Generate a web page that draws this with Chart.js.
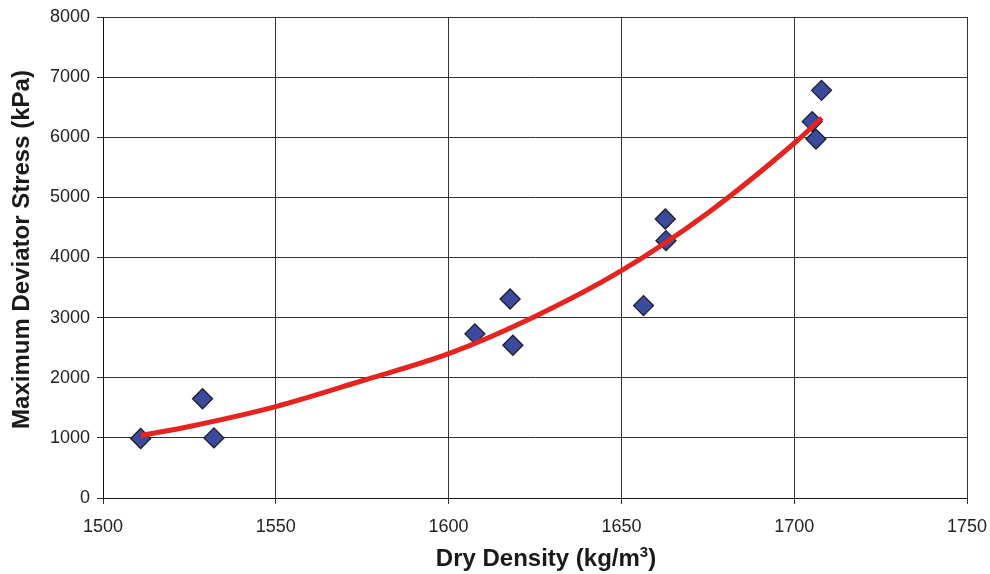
<!DOCTYPE html>
<html>
<head>
<meta charset="utf-8">
<script src="https://cdn.jsdelivr.net/npm/chart.js@4.4.0/dist/chart.umd.min.js"></script>
<style>
  html, body { margin: 0; padding: 0; background: #fff; }
  #wrap { width: 990px; height: 574px; position: relative; }
</style>
</head>
<body>
<div id="wrap"><canvas id="myChart"></canvas></div>
<script>
  // measured samples
  var density = [1510.9, 1528.8, 1532.1, 1607.6, 1617.8, 1618.6, 1656.4, 1662.7, 1662.9, 1705.2, 1706.3, 1707.9];
  var stress  = [990, 1650, 1000, 2730, 3310, 2540, 3200, 4640, 4280, 6260, 5970, 6780];

  // exponential trend curve, read along its length
  var trendDensity = [1511, 1525, 1550, 1575, 1600, 1625, 1650, 1675, 1700, 1708];
  var trendStress  = [1040, 1190, 1520, 1950, 2400, 3020, 3780, 4740, 5900, 6320];

  var xTicks = [1500, 1550, 1600, 1650, 1700, 1750];
  var yTicks = [0, 1000, 2000, 3000, 4000, 5000, 6000, 7000, 8000];

  function toPoints(xs, ys) {
    var pts = [];
    for (var i = 0; i < xs.length; i++) pts.push({x: xs[i], y: ys[i]});
    return pts;
  }

  var fontFamily = "'Liberation Sans', Arial, sans-serif";
  var gridColor = '#333';

  // axis titles, drawn by hand so the x title can carry a real superscript
  var axisTitles = {
    id: 'axisTitles',
    afterDraw: function(chart) {
      var ctx = chart.ctx;
      var area = chart.chartArea;
      var big = 'bold 24px ' + fontFamily;
      var small = 'bold 15px ' + fontFamily;

      ctx.save();
      ctx.fillStyle = '#1a1a1a';
      ctx.textBaseline = 'alphabetic';
      ctx.textAlign = 'left';

      var parts = [
        {text: 'Dry Density (kg/m', font: big, rise: 0},
        {text: '3', font: small, rise: 9},
        {text: ')', font: big, rise: 0}
      ];
      var total = 0;
      parts.forEach(function(p) {
        ctx.font = p.font;
        p.w = ctx.measureText(p.text).width;
        total += p.w;
      });
      var x = (area.left + area.right) / 2 + 11 - total / 2;
      parts.forEach(function(p) {
        ctx.font = p.font;
        ctx.fillText(p.text, x, 566 - p.rise);
        x += p.w;
      });

      ctx.translate(22, (area.top + area.bottom) / 2 - 8);
      ctx.rotate(-Math.PI / 2);
      ctx.font = big;
      ctx.textAlign = 'center';
      ctx.textBaseline = 'middle';
      ctx.fillText('Maximum Deviator Stress (kPa)', 0, 0);
      ctx.restore();
    }
  };

  var chart = new Chart(document.getElementById('myChart'), {
    type: 'scatter',
    data: {
      datasets: [
        {
          label: 'Trend',
          type: 'line',
          data: toPoints(trendDensity, trendStress),
          borderColor: '#e5231f',
          borderWidth: 5,
          pointRadius: 0,
          fill: false,
          cubicInterpolationMode: 'monotone',
          order: 0
        },
        {
          label: 'Samples',
          data: toPoints(density, stress),
          pointStyle: 'rectRot',
          pointRadius: 10,
          pointBackgroundColor: '#3b4a9c',
          pointBorderColor: '#1e1e2a',
          pointBorderWidth: 1.3,
          order: 1
        }
      ]
    },
    options: {
      responsive: true,
      maintainAspectRatio: false,
      animation: false,
      layout: { padding: { top: 17, right: 23, left: 0, bottom: 0 } },
      plugins: {
        legend: { display: false },
        tooltip: { enabled: false }
      },
      scales: {
        x: {
          type: 'linear',
          min: xTicks[0],
          max: xTicks[xTicks.length - 1],
          afterBuildTicks: function(scale) {
            scale.ticks = xTicks.map(function(v) { return {value: v}; });
          },
          afterFit: function(scale) {
            scale.height = 76;
            scale.paddingLeft = 0;
            scale.paddingRight = 0;
          },
          grid: { color: gridColor, lineWidth: 1, tickLength: 6, tickColor: gridColor },
          border: { color: '#111', width: 1 },
          ticks: {
            color: '#222',
            padding: 12,
            font: { family: fontFamily, size: 18 },
            callback: function(v) { return v; }
          }
        },
        y: {
          min: yTicks[0],
          max: yTicks[yTicks.length - 1],
          afterBuildTicks: function(scale) {
            scale.ticks = yTicks.map(function(v) { return {value: v}; });
          },
          afterFit: function(scale) {
            scale.width = 103;
            scale.paddingTop = 0;
            scale.paddingBottom = 0;
          },
          grid: { color: gridColor, lineWidth: 1, tickLength: 6, tickColor: gridColor },
          border: { color: '#111', width: 1 },
          ticks: {
            color: '#222',
            padding: 7,
            font: { family: fontFamily, size: 18 },
            callback: function(v) { return v; }
          }
        }
      }
    },
    plugins: [axisTitles]
  });
</script>
</body>
</html>
